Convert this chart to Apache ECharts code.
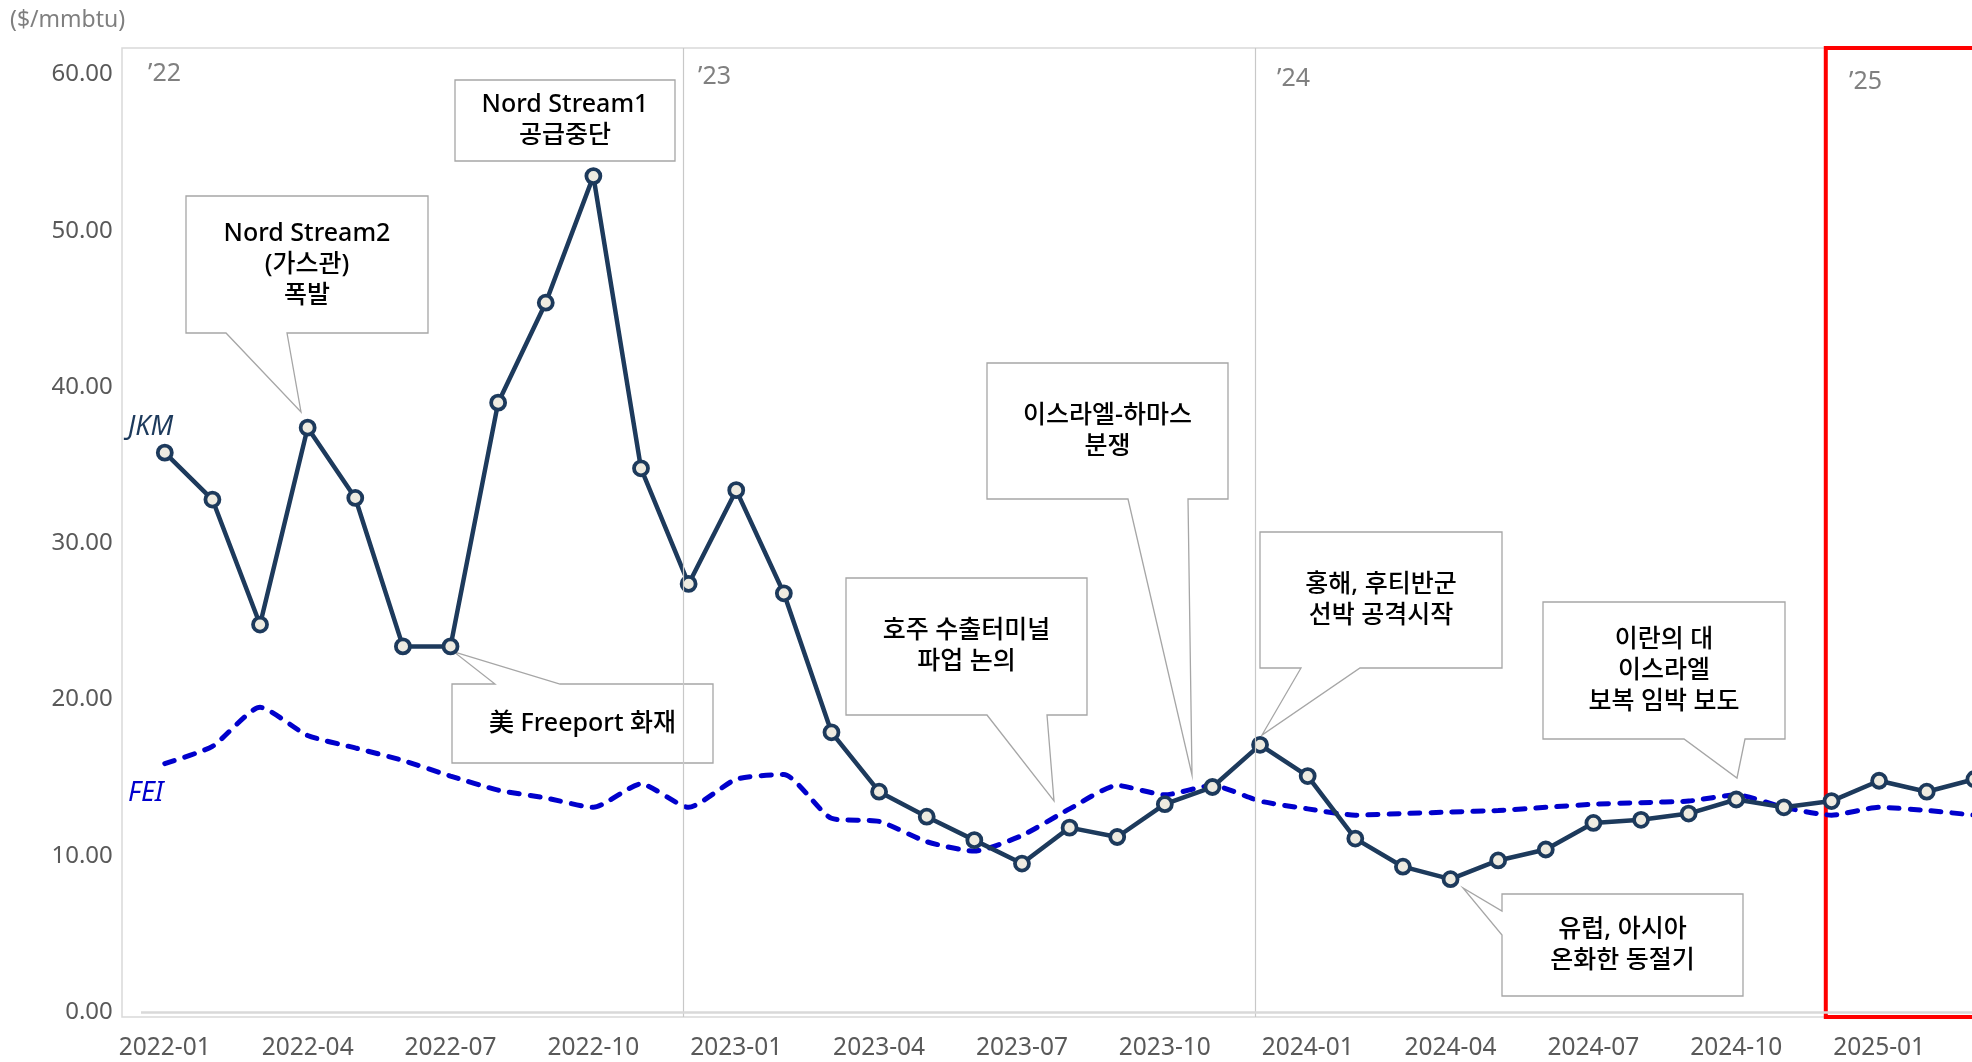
<!DOCTYPE html>
<html>
<head>
<meta charset="utf-8">
<script src="https://cdn.jsdelivr.net/npm/echarts@6/dist/echarts.min.js"></script>
<style>
  html, body { margin: 0; padding: 0; background: #ffffff; }
  #chart { width: 1972px; height: 1062px; }
</style>
</head>
<body>
<div id="chart"></div>
<script>
// ---- data ----
const months = [
  '2022-01','2022-02','2022-03','2022-04','2022-05','2022-06','2022-07','2022-08','2022-09','2022-10','2022-11','2022-12',
  '2023-01','2023-02','2023-03','2023-04','2023-05','2023-06','2023-07','2023-08','2023-09','2023-10','2023-11','2023-12',
  '2024-01','2024-02','2024-03','2024-04','2024-05','2024-06','2024-07','2024-08','2024-09','2024-10','2024-11','2024-12',
  '2025-01','2025-02','2025-03'
];
const jkm = [35.8, 32.8, 24.8, 37.4, 32.9, 23.4, 23.4, 39.0, 45.4, 53.5, 34.8, 27.4,
             33.4, 26.8, 17.9, 14.1, 12.5, 11.0, 9.5, 11.8, 11.2, 13.3, 14.4, 17.1,
             15.1, 11.1, 9.3, 8.5, 9.7, 10.4, 12.1, 12.3, 12.7, 13.6, 13.1, 13.5,
             14.8, 14.1, 14.9];
const fei = [15.9, 17.0, 19.5, 17.7, 16.9, 16.1, 15.1, 14.2, 13.7, 13.1, 14.6, 13.1,
             14.9, 15.2, 12.4, 12.2, 10.9, 10.3, 11.3, 13.0, 14.5, 13.9, 14.5, 13.5,
             13.0, 12.6, 12.7, 12.8, 12.9, 13.1, 13.3, 13.4, 13.5, 13.9, 13.1, 12.6,
             13.1, 12.9, 12.6];
const yTicks = [0, 10, 20, 30, 40, 50, 60];
const unitLabel = '($/mmbtu)';
const yearLabels = ['\u201922', '\u201923', '\u201924', '\u201925'];
const callTexts = [
  'Nord Stream2\n(가스관)\n폭발',
  'Nord Stream1\n공급중단',
  '美 Freeport 화재',
  '호주 수출터미널\n파업 논의',
  '이스라엘-하마스\n분쟁',
  '홍해, 후티반군\n선박 공격시작',
  '이란의 대\n이스라엘\n보복 임박 보도',
  '유럽, 아시아\n온화한 동절기'
];

// ---- layout / style ----
const FONT = "'Noto Sans', 'Noto Sans CJK KR', sans-serif";
const NAVY = '#1d3a5c';
const BLUE = '#0000cc';
const PX_MONTH = 47.62;
const DATA_LEFT = 164.8;
const FRAME_LEFT = 122;
const FRAME_W = 1900;
const xMin0 = -(DATA_LEFT - FRAME_LEFT) / PX_MONTH;
const xMax0 = xMin0 + FRAME_W / PX_MONTH;
const Y_MAX = 61.7;
const Y0_MIN = Y_MAX - 969 / (964 / Y_MAX);

// callout geometry: box [x0,y0,x1,y1], tail side, base a/b, tip
const callGeo = [
  { box: [186, 196, 428, 333], side: 'bottom', base: [226, 287], tip: [301, 412] },
  { box: [455, 80, 675, 161], side: 'none' },
  { box: [452, 684, 713, 763], side: 'top', base: [495, 560], tip: [454, 652] },
  { box: [846, 578, 1087, 715], side: 'bottom', base: [987, 1047], tip: [1054, 801] },
  { box: [987, 363, 1228, 499], side: 'bottom', base: [1128, 1188], tip: [1192, 775] },
  { box: [1260, 532, 1502, 668], side: 'bottom', base: [1301, 1360], tip: [1262, 735] },
  { box: [1543, 602, 1785, 739], side: 'bottom', base: [1684, 1745], tip: [1737, 778] },
  { box: [1502, 894, 1743, 996], side: 'left', base: [911, 935], tip: [1463, 888] }
];

function calloutPoints(g) {
  const [x0, y0, x1, y1] = g.box;
  if (g.side === 'bottom') {
    return [[x0, y0], [x1, y0], [x1, y1], [g.base[1], y1], g.tip, [g.base[0], y1], [x0, y1]];
  } else if (g.side === 'top') {
    return [[x0, y0], [g.base[0], y0], g.tip, [g.base[1], y0], [x1, y0], [x1, y1], [x0, y1]];
  } else if (g.side === 'left') {
    return [[x0, y0], [x1, y0], [x1, y1], [x0, y1], [x0, g.base[1]], g.tip, [x0, g.base[0]]];
  }
  return [[x0, y0], [x1, y0], [x1, y1], [x0, y1]];
}

const graphics = [];
callGeo.forEach((g, i) => {
  graphics.push({
    type: 'polygon', z: 1, silent: true,
    shape: { points: calloutPoints(g) },
    style: { fill: '#ffffff', stroke: '#a6a6a6', lineWidth: 1.3 }
  });
  graphics.push({
    type: 'text', z: 1, silent: true,
    x: (g.box[0] + g.box[2]) / 2, y: (g.box[1] + g.box[3]) / 2,
    style: {
      text: callTexts[i], fill: '#000000', fontSize: 25, fontWeight: 500, fontFamily: FONT,
      align: 'center', verticalAlign: 'middle', lineHeight: 31
    }
  });
});

const yearPos = [[148, 74], [698, 77], [1277, 79], [1849, 82]];
yearLabels.forEach((t, i) => {
  graphics.push({
    type: 'text', z: 5, silent: true, x: yearPos[i][0], y: yearPos[i][1],
    style: { text: t, fill: '#808080', fontSize: 25, fontFamily: FONT, align: 'left', verticalAlign: 'middle' }
  });
});
graphics.push({
  type: 'text', z: 5, silent: true, x: 10, y: 20,
  style: { text: unitLabel, fill: '#7f7f7f', fontSize: 23, fontFamily: FONT, align: 'left', verticalAlign: 'middle' }
});
graphics.push({
  type: 'text', z: 5, silent: true, x: 128, y: 427,
  style: { text: 'JKM', fill: NAVY, fontSize: 27, fontStyle: 'italic', fontFamily: FONT, align: 'left', verticalAlign: 'middle' }
});
graphics.push({
  type: 'text', z: 5, silent: true, x: 128, y: 793,
  style: { text: 'FEI', fill: BLUE, fontSize: 27, fontStyle: 'italic', fontFamily: FONT, align: 'left', verticalAlign: 'middle' }
});

const chart = echarts.init(document.getElementById('chart'), null, { renderer: 'canvas' });
chart.setOption({
  backgroundColor: '#ffffff',
  animation: false,
  textStyle: { fontFamily: FONT },
  grid: [
    { left: FRAME_LEFT, top: 48, width: FRAME_W, height: 969, show: true, borderColor: '#d9d9d9', borderWidth: 1.5,
      backgroundColor: 'rgba(0,0,0,0)', outerBoundsMode: 'none', containLabel: false },
    { left: DATA_LEFT, top: 48, width: PX_MONTH * (months.length - 1), height: 964, outerBoundsMode: 'none', containLabel: false }
  ],
  xAxis: [
    { gridIndex: 0, type: 'value', min: xMin0, max: xMax0, show: false },
    {
      gridIndex: 1, type: 'category', data: months, boundaryGap: false,
      axisLine: { show: false }, axisTick: { show: false }, splitLine: { show: false },
      axisLabel: { interval: 2, margin: 24, fontSize: 24.5, color: '#595959', fontFamily: FONT }
    }
  ],
  yAxis: [
    { gridIndex: 0, type: 'value', min: Y0_MIN, max: Y_MAX, show: false },
    {
      gridIndex: 1, type: 'value', min: 0, max: Y_MAX, interval: 10,
      axisLine: { show: false }, axisTick: { show: false }, splitLine: { show: false },
      axisLabel: {
        margin: 52, fontSize: 24, color: '#595959', fontFamily: FONT,
        formatter: v => (yTicks.indexOf(Math.round(v * 1000) / 1000) >= 0 ? v.toFixed(2) : '')
      }
    }
  ],
  graphic: graphics,
  series: [
    {
      name: 'frame', type: 'line', xAxisIndex: 0, yAxisIndex: 0, data: [], z: 1, clip: false, silent: true,
      markLine: {
        silent: true, symbol: ['none', 'none'], label: { show: false }, animation: false,
        data: [
          { xAxis: 10.89, lineStyle: { color: '#c8c8c8', width: 1.2, type: 'solid' } },
          { xAxis: 22.89, lineStyle: { color: '#c8c8c8', width: 1.2, type: 'solid' } },
          [ { coord: [-0.5, 0], lineStyle: { color: '#d9d9d9', width: 2.5, type: 'solid' } }, { coord: [xMax0, 0] } ]
        ]
      },
      markArea: {
        silent: true, label: { show: false },
        itemStyle: { color: 'rgba(0,0,0,0)', borderColor: '#ff0000', borderWidth: 4 },
        data: [ [ { coord: [34.88, Y0_MIN] }, { coord: [xMax0, Y_MAX] } ] ]
      }
    },
    {
      name: 'FEI', type: 'line', xAxisIndex: 1, yAxisIndex: 1, data: fei, z: 3,
      smooth: 0.2, symbol: 'none',
      lineStyle: { color: BLUE, width: 5, type: [10, 11], cap: 'round' }
    },
    {
      name: 'JKM', type: 'line', xAxisIndex: 1, yAxisIndex: 1, data: jkm, z: 4,
      symbol: 'circle', symbolSize: 14,
      lineStyle: { color: NAVY, width: 4.5 },
      itemStyle: { color: '#eeebe1', borderColor: NAVY, borderWidth: 3.8 }
    }
  ]
});
</script>
</body>
</html>
